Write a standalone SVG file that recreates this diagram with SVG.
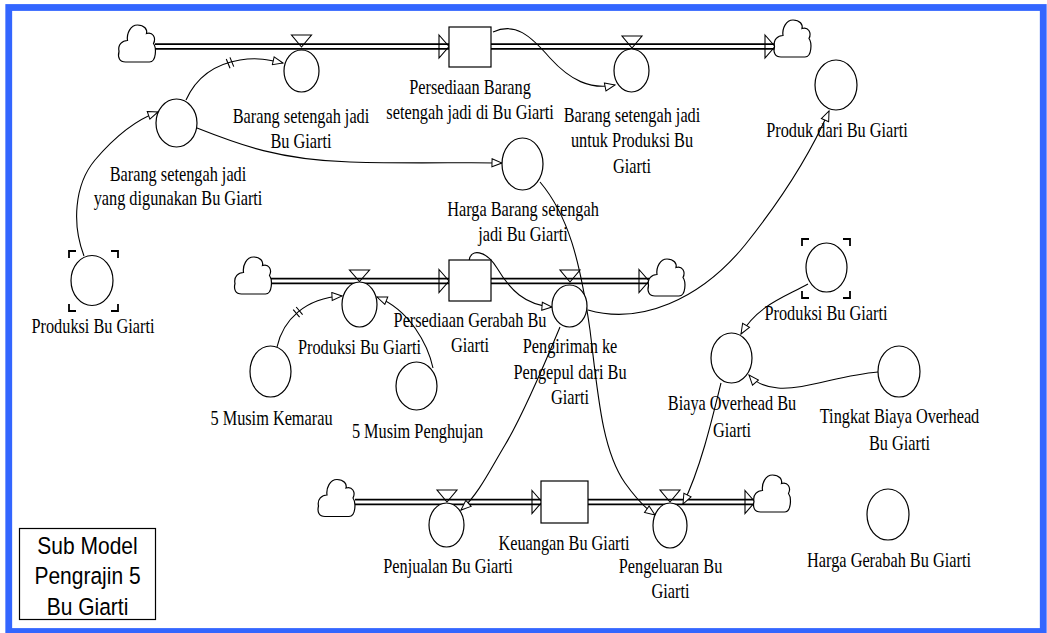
<svg xmlns="http://www.w3.org/2000/svg" width="1047" height="633" viewBox="0 0 1047 633">
  <style>
    .node{fill:#fff;stroke:#000;stroke-width:1.2}
    .pipe-out{fill:none;stroke:#000;stroke-width:6.5}
    .pipe-in{fill:none;stroke:#fff;stroke-width:3}
    .head{fill:none;stroke:#000;stroke-width:1.1}
    .link{fill:none;stroke:#000;stroke-width:1.1;marker-end:url(#ah)}
    .tick{fill:none;stroke:#000;stroke-width:1.1}
    .ghost{fill:none;stroke:#000;stroke-width:1.8}
    .lbl{font-family:"Liberation Serif","Times New Roman",serif;font-size:16.3px;text-anchor:middle;fill:#000}
    .note{font-family:"Liberation Sans",Arial,sans-serif;font-size:21px;text-anchor:middle;fill:#000}
  </style>
  <defs>
    <marker id="ah" viewBox="0 0 12 10" refX="11" refY="5" markerWidth="12" markerHeight="10" markerUnits="userSpaceOnUse" orient="auto">
      <path d="M1,1 L11,5 L1,9 Z" fill="#fff" stroke="#000" stroke-width="1"/>
    </marker>
    <path id="cloud" class="node" d="M-11,18.5 C-17,18.5 -19,14 -17.5,8 C-19,1 -14,-3 -9,-3 C-10,-10 -6,-18.5 1,-18.5 C8,-18.5 11,-14 10,-10 C16,-12 20,-6 17,0 C20,4 20,18.5 13,18.5 Z"/>
  </defs>

  <rect width="1047" height="633" fill="#fff"/>
  <!-- frame -->
  <rect x="8.75" y="7.5" width="1034.5" height="624" fill="none" stroke="#3366ff" stroke-width="6.8"/>

  <!-- flow pipes -->
  <g id="pipes">
    <path class="pipe-out" d="M155,46.5 H449 M491,46.5 H775 M270,281 H449 M491,281 H649 M355,502 H541 M588,502 H755"/>
    <path class="pipe-in" d="M155,46.5 H449 M491,46.5 H775 M270,281 H449 M491,281 H649 M355,502 H541 M588,502 H755"/>
    <path class="head" d="M439,35 L449,46.5 L439,58 Z M765,35 L775,46.5 L765,58 Z M439,269.5 L449,281 L439,292.5 Z M639,269.5 L649,281 L639,292.5 Z M532,490.5 L542,502 L532,513.5 Z M745,490.5 L755,502 L745,513.5 Z"/>
  </g>

  <!-- sources and sinks -->
  <g id="clouds">
    <use href="#cloud" x="136.5" y="43.5"/>
    <use href="#cloud" x="792" y="38.5"/>
    <use href="#cloud" x="252.5" y="275.5"/>
    <use href="#cloud" x="666" y="277.5"/>
    <use href="#cloud" x="336" y="498"/>
    <use href="#cloud" x="771.5" y="493.5"/>
  </g>

  <!-- connectors -->
  <g id="connectors">
    <path class="link" d="M186,100 C196,78 215,64 240,60 C258,57 270,60 283,63"/>
    <path class="tick" d="M229.96,57.4 L233.74,66.6 M226.26,59 L230.04,68.2"/>
    <path class="link" d="M197,128 C240,145 280,160 350,162 C420,164 460,162 502,163"/>
    <path class="link" d="M84,256 C72,225 74,185 95,160 C112,140 135,120 158,112"/>
    <path class="link" d="M493,32 C515,22 530,35 550,58 C570,80 590,90 615,85"/>
    <path class="link" d="M540,182 C568,215 580,260 590,330 C598,395 602,450 625,483 C635,497 645,508 655,515"/>
    <path class="link" d="M588,310 C640,325 700,300 745,245 C785,195 812,150 829,111"/>
    <path class="link" d="M277,347 C283,320 305,298 342,296"/>
    <path class="tick" d="M296.2,307 L302.6,314.6 M293.2,309.6 L299.6,317.2"/>
    <path class="link" d="M433,368 C428,345 410,310 377,297"/>
    <path class="link" d="M469,261 C470,248 486,250 497,268 C510,290 525,305 552,307"/>
    <path class="link" d="M560,327 C540,375 520,420 505,445 C490,470 478,495 461,510"/>
    <path class="link" d="M808,284 C785,297 758,305 741,334"/>
    <path class="link" d="M878,372 C840,375 805,390 778,388 C765,387 755,382 749,375"/>
    <path class="link" d="M721,383 C712,420 700,470 683,504"/>
  </g>

  <!-- stocks -->
  <g id="stock-persediaan-barang">
    <rect class="node" x="449" y="27" width="42" height="40"/>
    <text class="lbl" transform="translate(470,94) scale(1,1.25)"><tspan x="0">Persediaan Barang</tspan><tspan x="0" dy="20.4">setengah jadi di Bu Giarti</tspan></text>
  </g>
  <g id="stock-persediaan-gerabah">
    <rect class="node" x="449" y="260" width="42" height="41"/>
    <text class="lbl" transform="translate(470,327) scale(1,1.25)"><tspan x="0">Persediaan Gerabah Bu</tspan><tspan x="0" dy="20.4">Giarti</tspan></text>
  </g>
  <g id="stock-keuangan">
    <rect class="node" x="541" y="481" width="47" height="42"/>
    <text class="lbl" transform="translate(564,550) scale(1,1.25)">Keuangan Bu Giarti</text>
  </g>

  <!-- flows -->
  <g id="flow-bsj-bu-giarti">
    <path class="head" d="M291.5,35 L311.5,35 L301.5,47 Z"/>
    <ellipse class="node" cx="301.5" cy="71" rx="17.5" ry="21"/>
    <text class="lbl" transform="translate(301,123) scale(1,1.25)"><tspan x="0">Barang setengah jadi</tspan><tspan x="0" dy="20.4">Bu Giarti</tspan></text>
  </g>
  <g id="flow-bsj-untuk-produksi">
    <path class="head" d="M622,36 L642,36 L632,48 Z"/>
    <ellipse class="node" cx="631.5" cy="70.5" rx="17.5" ry="21.5"/>
    <text class="lbl" transform="translate(632,122) scale(1,1.25)"><tspan x="0">Barang setengah jadi</tspan><tspan x="0" dy="20.4">untuk Produksi Bu</tspan><tspan x="0" dy="20.4">Giarti</tspan></text>
  </g>
  <g id="flow-produksi">
    <path class="head" d="M349.5,270 L369.5,270 L359.5,281.5 Z"/>
    <ellipse class="node" cx="359.5" cy="304.5" rx="17.5" ry="22.5"/>
    <text class="lbl" transform="translate(359.5,354) scale(1,1.25)">Produksi Bu Giarti</text>
  </g>
  <g id="flow-pengiriman">
    <path class="head" d="M560,270 L580,270 L570,282 Z"/>
    <ellipse class="node" cx="569.5" cy="306" rx="17.5" ry="21"/>
    <text class="lbl" transform="translate(570,353) scale(1,1.25)"><tspan x="0">Pengiriman ke</tspan><tspan x="0" dy="20.6">Pengepul dari Bu</tspan><tspan x="0" dy="20.6">Giarti</tspan></text>
  </g>
  <g id="flow-penjualan">
    <path class="head" d="M437,490 L457,490 L447,502 Z"/>
    <ellipse class="node" cx="446.5" cy="525" rx="17.5" ry="22"/>
    <text class="lbl" transform="translate(448,573) scale(1,1.25)">Penjualan Bu Giarti</text>
  </g>
  <g id="flow-pengeluaran">
    <path class="head" d="M660,490 L680,490 L670,502 Z"/>
    <ellipse class="node" cx="670" cy="525.5" rx="17" ry="22.5"/>
    <text class="lbl" transform="translate(670.5,573) scale(1,1.25)"><tspan x="0">Pengeluaran Bu</tspan><tspan x="0" dy="20">Giarti</tspan></text>
  </g>

  <!-- auxiliaries -->
  <g id="aux-bsj-digunakan">
    <ellipse class="node" cx="176.5" cy="123" rx="20.5" ry="24"/>
    <text class="lbl" transform="translate(178,181) scale(1,1.25)"><tspan x="0">Barang setengah jadi</tspan><tspan x="0" dy="19.4">yang digunakan Bu Giarti</tspan></text>
  </g>
  <g id="aux-harga-barang">
    <ellipse class="node" cx="522.5" cy="164" rx="20.5" ry="26"/>
    <text class="lbl" transform="translate(523,216) scale(1,1.25)"><tspan x="0">Harga Barang setengah</tspan><tspan x="0" dy="20">jadi Bu Giarti</tspan></text>
  </g>
  <g id="aux-produk">
    <ellipse class="node" cx="836" cy="85" rx="21" ry="25"/>
    <text class="lbl" transform="translate(837,137) scale(1,1.25)">Produk dari Bu Giarti</text>
  </g>
  <g id="aux-produksi-left">
    <ellipse class="node" cx="92" cy="280.5" rx="21" ry="25"/>
    <path class="ghost" d="M69,258 V251 H76 M111,251 H118 V258 M69,304 V311 H76 M111,311 H118 V304"/>
    <text class="lbl" transform="translate(93,333) scale(1,1.25)">Produksi Bu Giarti</text>
  </g>
  <g id="aux-kemarau">
    <ellipse class="node" cx="270.5" cy="371.5" rx="20.5" ry="25.5"/>
    <text class="lbl" transform="translate(271.5,425) scale(1,1.25)">5 Musim Kemarau</text>
  </g>
  <g id="aux-penghujan">
    <ellipse class="node" cx="416.5" cy="386" rx="20.5" ry="24"/>
    <text class="lbl" transform="translate(417.5,438) scale(1,1.25)">5 Musim Penghujan</text>
  </g>
  <g id="aux-produksi-right">
    <ellipse class="node" cx="826.5" cy="267.5" rx="20.5" ry="24.5"/>
    <path class="ghost" d="M802,246 V239 H809 M843,239 H850 V246 M802,291 V298 H809 M843,298 H850 V291"/>
    <text class="lbl" transform="translate(826,320) scale(1,1.25)">Produksi Bu Giarti</text>
  </g>
  <g id="aux-biaya-overhead">
    <ellipse class="node" cx="731.5" cy="358" rx="20.5" ry="25"/>
    <text class="lbl" transform="translate(732,410) scale(1,1.25)"><tspan x="0">Biaya Overhead Bu</tspan><tspan x="0" dy="21.6">Giarti</tspan></text>
  </g>
  <g id="aux-tingkat-biaya">
    <ellipse class="node" cx="899" cy="371.5" rx="21" ry="25.5"/>
    <text class="lbl" transform="translate(899.5,423) scale(1,1.25)"><tspan x="0">Tingkat Biaya Overhead</tspan><tspan x="0" dy="21.6">Bu Giarti</tspan></text>
  </g>
  <g id="aux-harga-gerabah">
    <ellipse class="node" cx="888" cy="514.5" rx="21" ry="25.5"/>
    <text class="lbl" transform="translate(889,567) scale(1,1.25)">Harga Gerabah Bu Giarti</text>
  </g>

  <!-- sub model caption -->
  <g id="caption">
    <rect x="19.5" y="528.5" width="136" height="91" fill="#fff" stroke="#000" stroke-width="1.2"/>
    <text class="note" transform="translate(87.5,554) scale(1,1.17)"><tspan x="0">Sub Model</tspan><tspan x="0" dy="26">Pengrajin 5</tspan><tspan x="0" dy="26">Bu Giarti</tspan></text>
  </g>
</svg>
